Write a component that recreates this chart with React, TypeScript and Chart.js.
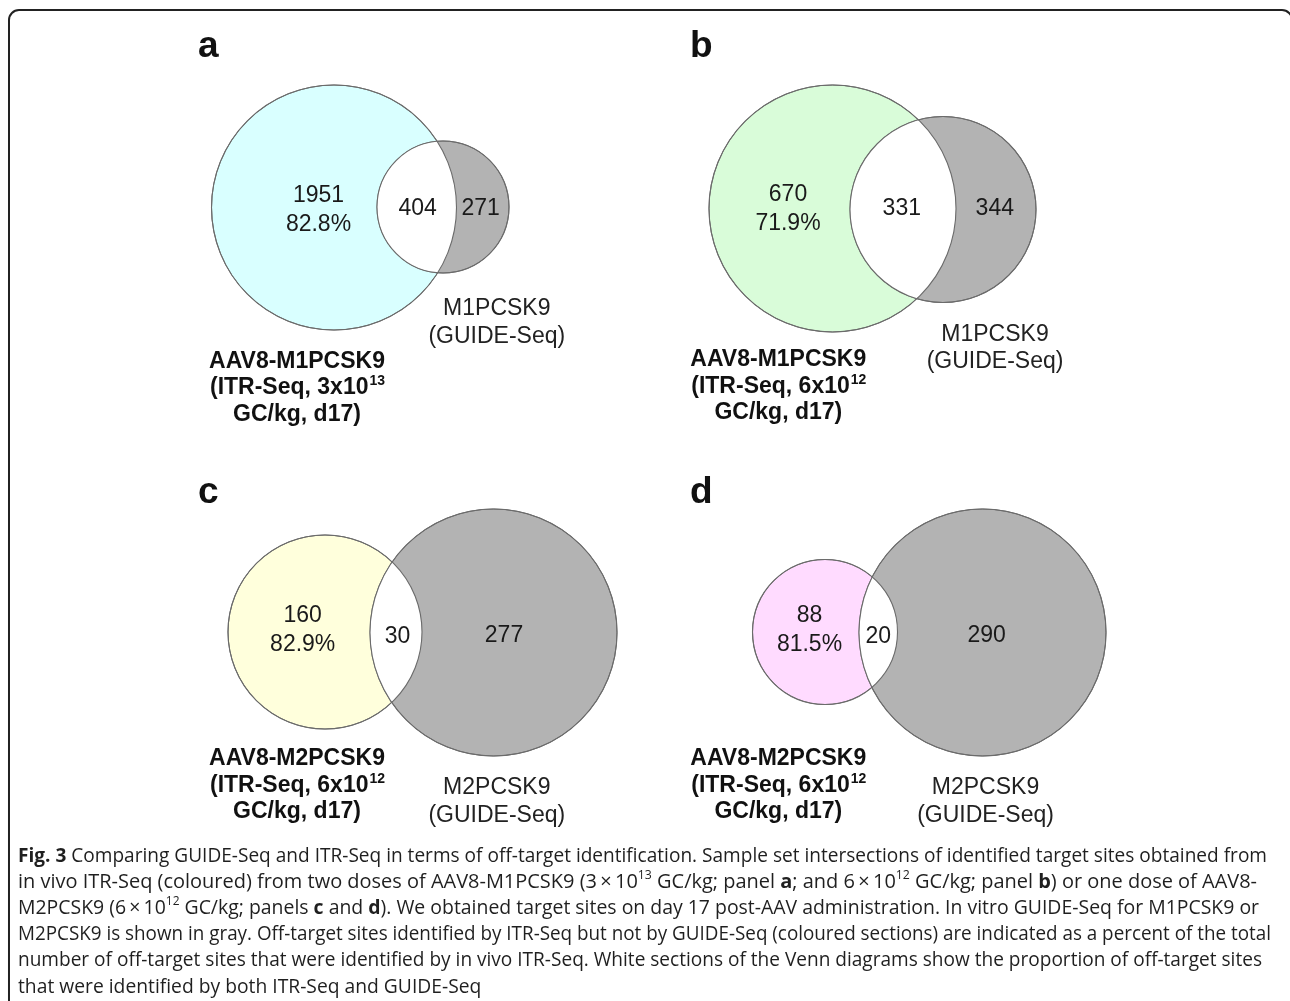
import React, { useEffect, useRef } from 'react';
import { Chart, registerables } from 'chart.js';

Chart.register(...registerables);

// ---------------- data ----------------
const panelLetters = ['a', 'b', 'c', 'd'];
const itrOnlyCounts = [1951, 670, 160, 88];
const itrOnlyPercents = ['82.8%', '71.9%', '82.9%', '81.5%'];
const sharedCounts = [404, 331, 30, 20];
const guideOnlyCounts = [271, 344, 277, 290];
const itrSampleNames = ['AAV8-M1PCSK9', 'AAV8-M1PCSK9', 'AAV8-M2PCSK9', 'AAV8-M2PCSK9'];
const itrDoseMantissas = ['3x10', '6x10', '6x10', '6x10'];
const itrDoseExponents = ['13', '12', '12', '12'];
const itrDayLabels = ['GC/kg, d17)', 'GC/kg, d17)', 'GC/kg, d17)', 'GC/kg, d17)'];
const guideNames = ['M1PCSK9', 'M1PCSK9', 'M2PCSK9', 'M2PCSK9'];
const guideMethodLabel = '(GUIDE-Seq)';

const captionLines: [string, string][][] = [
  [['b', 'Fig. 3'], ['n', ' Comparing GUIDE-Seq and ITR-Seq in terms of off-target identification. Sample set intersections of identified target sites obtained from']],
  [['n', 'in vivo ITR-Seq (coloured) from two doses of AAV8-M1PCSK9 (3\u2009\u00d7\u200910'], ['s', '13'], ['n', ' GC/kg; panel '], ['b', 'a'], ['n', '; and 6\u2009\u00d7\u200910'], ['s', '12'], ['n', ' GC/kg; panel '], ['b', 'b'], ['n', ') or one dose of AAV8-']],
  [['n', 'M2PCSK9 (6\u2009\u00d7\u200910'], ['s', '12'], ['n', ' GC/kg; panels '], ['b', 'c'], ['n', ' and '], ['b', 'd'], ['n', '). We obtained target sites on day 17 post-AAV administration. In vitro GUIDE-Seq for M1PCSK9 or']],
  [['n', 'M2PCSK9 is shown in gray. Off-target sites identified by ITR-Seq but not by GUIDE-Seq (coloured sections) are indicated as a percent of the total']],
  [['n', 'number of off-target sites that were identified by in vivo ITR-Seq. White sections of the Venn diagrams show the proportion of off-target sites']],
  [['n', 'that were identified by both ITR-Seq and GUIDE-Seq']],
];

// ---------------- layout (chart units) ----------------
const itrCircleCentres = [{ x: 334, y: 207.5 }, { x: 832.5, y: 208.5 }, { x: 325, y: 632 }, { x: 825, y: 632 }];
const itrCircleRadii = [122.5, 123.5, 97, 72.5];
const guideCircleCentres = [{ x: 443, y: 207 }, { x: 943, y: 209.5 }, { x: 493.5, y: 632.5 }, { x: 982.5, y: 632.5 }];
const guideCircleRadii = [66, 93, 123.5, 123.5];

const letterPos = [{ x: 198, y: 57 }, { x: 690, y: 57 }, { x: 198, y: 503 }, { x: 690, y: 503 }];
const itrOnlyPos = [{ x: 318.5, y: 201.5 }, { x: 788, y: 201 }, { x: 302.7, y: 621.7 }, { x: 809.5, y: 621.7 }];
const sharedPos = [{ x: 417.7, y: 215 }, { x: 901.8, y: 215 }, { x: 397.5, y: 642.5 }, { x: 878.3, y: 643 }];
const guideOnlyPos = [{ x: 480.7, y: 215 }, { x: 994.8, y: 215 }, { x: 504, y: 641.7 }, { x: 986.6, y: 641.7 }];
const itrLabelPos = [{ x: 297, y: 367.5 }, { x: 778.3, y: 366 }, { x: 297, y: 765 }, { x: 778.3, y: 765 }];
const guideLabelPos = [{ x: 496.8, y: 315 }, { x: 995, y: 340.7 }, { x: 496.8, y: 794 }, { x: 985.5, y: 794 }];
const captionStart = { x: 18, y: 861.5 };
const captionLineGap = 26.2;
const captionTargetEnds = [1267, 1257, 1259, 1271, 1262];

// ---------------- styles ----------------
const itrColours = ['#d9ffff', '#d9fcd9', '#ffffdc', '#ffdbff'];
const guideColour = '#b3b3b3';
const outlineColour = '#6b6b6b';
const SANS = '"Liberation Sans", Arial, sans-serif';
const CAPTION_FONT = '"Open Sans", sans-serif';

const vennPlugin = {
  id: 'venn',
  beforeDraw(chart: any) {
    const ctx = chart.ctx;
    ctx.save();
    ctx.fillStyle = '#ffffff';
    ctx.fillRect(0, 0, chart.width, chart.height);
    ctx.restore();
  },
  afterDatasetsDraw(chart: any) {
    const ctx = chart.ctx;
    const gMeta = chart.getDatasetMeta(0);
    const iMeta = chart.getDatasetMeta(1);
    for (let i = 0; i < gMeta.data.length; i++) {
      const g = gMeta.data[i];
      const it = iMeta.data[i];
      const gr = g.options.radius;
      const ir = it.options.radius;
      ctx.save();
      ctx.beginPath();
      ctx.arc(it.x, it.y, ir, 0, Math.PI * 2);
      ctx.clip();
      ctx.beginPath();
      ctx.arc(g.x, g.y, gr, 0, Math.PI * 2);
      ctx.fillStyle = '#ffffff';
      ctx.fill();
      ctx.restore();
      ctx.save();
      ctx.strokeStyle = outlineColour;
      ctx.lineWidth = 1.1;
      ctx.beginPath();
      ctx.arc(it.x, it.y, ir, 0, Math.PI * 2);
      ctx.stroke();
      ctx.beginPath();
      ctx.arc(g.x, g.y, gr, 0, Math.PI * 2);
      ctx.stroke();
      ctx.restore();
    }
  },
  afterDraw(chart: any) {
    const ctx = chart.ctx;
    const xs = chart.scales.x;
    const ys = chart.scales.y;
    const px = (v: number) => xs.getPixelForValue(v);
    const py = (v: number) => ys.getPixelForValue(v);
    ctx.save();
    ctx.textBaseline = 'alphabetic';

    const put = (s: string, x: number, y: number, font: string, align: CanvasTextAlign, color: string) => {
      ctx.font = font;
      ctx.textAlign = align;
      ctx.fillStyle = color;
      ctx.fillText(s, px(x), py(y));
    };

    for (let i = 0; i < panelLetters.length; i++) {
      put(panelLetters[i], letterPos[i].x, letterPos[i].y, `bold 37px ${SANS}`, 'left', '#111');
      put(String(itrOnlyCounts[i]), itrOnlyPos[i].x, itrOnlyPos[i].y, `23px ${SANS}`, 'center', '#1a1a1a');
      put(itrOnlyPercents[i], itrOnlyPos[i].x, itrOnlyPos[i].y + 29, `23px ${SANS}`, 'center', '#1a1a1a');
      put(String(sharedCounts[i]), sharedPos[i].x, sharedPos[i].y, `23px ${SANS}`, 'center', '#1a1a1a');
      put(String(guideOnlyCounts[i]), guideOnlyPos[i].x, guideOnlyPos[i].y, `23px ${SANS}`, 'center', '#1a1a1a');
      put(guideNames[i], guideLabelPos[i].x, guideLabelPos[i].y, `23px ${SANS}`, 'center', '#222');
      put(guideMethodLabel, guideLabelPos[i].x, guideLabelPos[i].y + 27.5, `23px ${SANS}`, 'center', '#222');

      const lp = itrLabelPos[i];
      put(itrSampleNames[i], lp.x, lp.y, `bold 23px ${SANS}`, 'center', '#111');
      const main = `(ITR-Seq, ${itrDoseMantissas[i]}`;
      const sup = itrDoseExponents[i];
      ctx.font = `bold 23px ${SANS}`;
      const w1 = ctx.measureText(main).width;
      ctx.font = `bold 14px ${SANS}`;
      const w2 = ctx.measureText(sup).width;
      const sx = px(lp.x) - (w1 + w2) / 2;
      ctx.textAlign = 'left';
      ctx.fillStyle = '#111';
      ctx.font = `bold 23px ${SANS}`;
      ctx.fillText(main, sx, py(lp.y + 26.5));
      ctx.font = `bold 14px ${SANS}`;
      ctx.fillText(sup, sx + w1 + 1, py(lp.y + 26.5) - 9);
      put(itrDayLabels[i], lp.x, lp.y + 53, `bold 23px ${SANS}`, 'center', '#111');
    }

    // caption
    const fontFor = (k: string) => (k === 'b' ? `bold 19.5px ${CAPTION_FONT}` : k === 's' ? `12px ${CAPTION_FONT}` : `19.5px ${CAPTION_FONT}`);
    const natural = captionLines.map((segs) => {
      let w = 0;
      for (const [k, t] of segs) {
        ctx.font = fontFor(k);
        w += ctx.measureText(t).width;
      }
      return w;
    });
    const scales = natural.map((w, i) => (i < captionTargetEnds.length ? (captionTargetEnds[i] - captionStart.x) / w : 0));
    const meanScale = scales.slice(0, captionTargetEnds.length).reduce((a, b) => a + b, 0) / captionTargetEnds.length;
    ctx.fillStyle = '#1f1f1f';
    ctx.textAlign = 'left';
    captionLines.forEach((segs, li) => {
      const s = li < captionTargetEnds.length ? scales[li] : meanScale;
      const y = captionStart.y + li * captionLineGap;
      ctx.save();
      ctx.translate(captionStart.x, y);
      ctx.scale(s, 1);
      let x = 0;
      for (const [k, t] of segs) {
        ctx.font = fontFor(k);
        ctx.fillText(t, x, k === 's' ? -8.5 : 0);
        x += ctx.measureText(t).width;
      }
      ctx.restore();
    });

    // frame
    ctx.strokeStyle = '#222';
    ctx.lineWidth = 2;
    ctx.beginPath();
    (ctx as any).roundRect(9, 10, 1283, 1010, 10);
    ctx.stroke();
    ctx.restore();
  },
};

export default function App() {
  const ref = useRef<HTMLCanvasElement>(null);
  useEffect(() => {
    const canvas = ref.current;
    if (!canvas) return;
    const chart = new Chart(canvas, {
      type: 'bubble',
      data: {
        datasets: [
          {
            label: 'GUIDE-Seq',
            data: guideCircleCentres.map((c, i) => ({ x: c.x, y: c.y, r: guideCircleRadii[i] })),
            backgroundColor: guideColour,
            borderColor: outlineColour,
            borderWidth: 1,
            clip: false,
          },
          {
            label: 'ITR-Seq',
            data: itrCircleCentres.map((c, i) => ({ x: c.x, y: c.y, r: itrCircleRadii[i] })),
            backgroundColor: itrColours,
            borderColor: outlineColour,
            borderWidth: 1,
            clip: false,
          },
        ],
      },
      options: {
        responsive: false,
        animation: false,
        events: [],
        layout: { padding: 0, autoPadding: false },
        plugins: { legend: { display: false }, tooltip: { enabled: false } },
        scales: {
          x: { type: 'linear', min: 0, max: 1290, display: false },
          y: { type: 'linear', min: 0, max: 1001, reverse: true, display: false },
        },
      } as any,
      plugins: [vennPlugin as any],
    });
    return () => chart.destroy();
  }, []);
  return (
    <canvas
      ref={ref}
      width={1290}
      height={1001}
      style={{ position: 'absolute', left: 0, top: 0, display: 'block' }}
    />
  );
}
